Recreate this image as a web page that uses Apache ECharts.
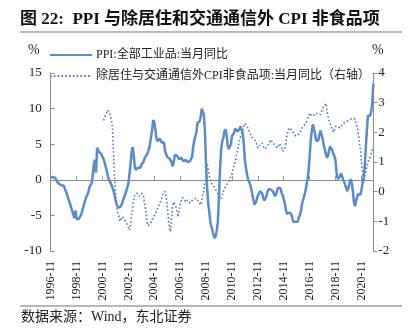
<!DOCTYPE html>
<html><head><meta charset="utf-8">
<script src="https://cdn.jsdelivr.net/npm/echarts@6/dist/echarts.min.js"></script>
<style>html,body{margin:0;padding:0;background:#fff}#c{width:414px;height:331px}</style>
</head><body><div id="c"></div>
<script>
// Monthly categories 1996-11 .. 2021-10
const startYear = 1996, startMonth = 11, monthCount = 300;
const categories = [];
for (let i = 0; i < monthCount; i++) {
  const t = startYear * 12 + (startMonth - 1) + i;
  const y = Math.floor(t / 12), m = t % 12 + 1;
  categories.push(y + '-' + (m < 10 ? '0' + m : m));
}
const seriesNames = ['PPI:全部工业品:当月同比', '除居住与交通通信外CPI非食品项:当月同比（右轴）'];
const leftTicks = [-10, -5, 0, 5, 10, 15];
const rightTicks = [-2, -1, 0, 1, 2, 3, 4];

// PPI yoy (%), 1996-11 .. 2021-10
const ppi = [
  0.3, 0.3,
  0.4, 0.2, 0.3, 0.0, -0.3, -0.5, -0.6, -0.7, -0.8, -0.7, -0.8, -1.2,
  -1.6, -2.0, -2.5, -3.0, -3.4, -3.9, -4.4, -4.9, -5.4, -4.3, -5.5, -5.7,
  -5.5, -5.3, -5.0, -4.5, -3.9, -3.4, -2.9, -2.4, -2.1, -1.7, -1.0, -0.8,
  -0.5, 0.6, 2.2, 2.8, 1.0, 4.5, 4.3, 3.9, 3.8, 3.6, 3.4, 2.9,
  2.4, 1.8, 1.2, 0.5, 0.0, -0.3, -0.6, -0.8, -1.4, -2.0, -2.8, -3.4,
  -3.8, -4.0, -3.9, -3.8, -3.4, -2.9, -2.5, -2.1, -1.6, -1.1, -0.5, 0.8,
  2.2, 3.9, 4.6, 3.4, 1.8, 1.4, 1.5, 1.7, 1.6, 1.7, 2.1, 2.2,
  2.5, 3.0, 3.3, 3.5, 3.8, 4.3, 5.0, 6.0, 7.0, 8.4, 8.1, 7.1,
  5.8, 5.4, 5.6, 5.8, 5.9, 5.2, 5.2, 5.3, 4.0, 4.0, 3.2, 3.2,
  3.0, 3.0, 2.5, 1.9, 2.4, 3.5, 3.6, 3.4, 3.5, 2.9, 2.8, 3.1,
  3.3, 2.6, 2.7, 2.8, 2.8, 2.5, 2.4, 2.6, 2.7, 3.2, 4.6, 5.4,
  6.1, 6.6, 8.0, 8.1, 8.2, 8.8, 10.0, 10.1, 9.1, 6.6, 2.0, -1.1,
  -3.3, -4.5, -6.0, -6.6, -7.2, -7.8, -8.2, -7.9, -7.0, -5.8, -2.1, 1.7,
  4.3, 5.4, 5.9, 6.8, 7.1, 6.4, 4.8, 4.3, 4.3, 5.0, 6.1, 5.9,
  6.6, 7.2, 7.3, 6.8, 6.8, 7.1, 7.5, 7.3, 6.5, 5.0, 2.7, 1.7,
  0.7, 0.0, -0.3, -0.7, -1.4, -2.1, -2.9, -3.5, -3.6, -2.8, -2.2, -1.9,
  -1.6, -1.6, -1.9, -2.6, -2.9, -2.7, -2.3, -1.6, -1.3, -1.5, -1.4, -1.4,
  -1.6, -2.0, -2.3, -2.0, -1.4, -1.1, -0.9, -1.2, -1.8, -2.2, -2.7, -3.3,
  -4.3, -4.8, -4.6, -4.6, -4.6, -4.8, -5.4, -5.9, -5.9, -5.9, -5.9, -5.9,
  -5.3, -4.9, -4.3, -3.4, -2.8, -2.6, -1.7, -0.8, 0.1, 1.2, 3.3, 5.5,
  6.9, 7.8, 7.6, 6.4, 5.5, 5.5, 5.5, 6.3, 6.9, 6.9, 5.8, 4.9,
  4.3, 3.7, 3.1, 3.4, 4.1, 4.7, 4.6, 4.1, 3.6, 3.3, 2.7, 0.9,
  0.1, 0.1, 0.4, 0.9, 0.6, 0.0, -0.3, -0.8, -1.2, -1.6, -1.4, -0.5,
  0.1, -0.4, -1.5, -3.1, -3.7, -3.0, -2.4, -2.0, -2.1, -2.1, -1.5, -0.4,
  0.3, 1.7, 4.4, 6.8, 9.0, 8.8, 9.0, 9.5, 10.7, 13.5
];

// CPI non-food ex housing & transport/communication yoy (%), 2000-12 .. 2021-10 (right axis)
const cpiStart = '2000-12';
const cpiNonFood = [
  2.4, 2.45, 2.6, 2.65, 2.75, 2.7, 2.6, 2.55, 2.3, 1.5, 0.6, 0.0,
  -0.4, -0.7, -0.8, -1.0, -0.95, -0.85, -0.85, -0.9, -0.95, -1.05, -1.1, -1.2,
  -1.3, -1.1, -0.8, -0.5, -0.3, -0.1, -0.05, -0.05, -0.1, -0.15, -0.15, -0.05,
  0.0, -0.15, -0.4, -0.6, -0.9, -1.15, -1.2, -1.1, -1.05, -0.95, -0.85, -0.8,
  -0.75, -0.65, -0.6, -0.5, -0.4, -0.3, -0.2, -0.05, 0.0, 0.0, -0.2, -0.45,
  -0.9, -1.2, -1.35, -0.9, -0.45, -0.35, -0.35, -0.5, -0.65, -0.85, -0.6, -0.45,
  -0.3, -0.2, -0.18, -0.25, -0.35, -0.3, -0.28, -0.32, -0.38, -0.36, -0.3, -0.28,
  -0.25, -0.22, -0.22, -0.25, -0.35, -0.4, -0.45, -0.5, -0.1, 0.05, 0.3, 0.55,
  0.95, 0.75, 0.55, 0.35, 0.28, 0.24, 0.2, 0.12, 0.06, 0.0, -0.05, -0.12,
  -0.18, -0.25, -0.2, 0.0, 0.1, 0.16, 0.22, 0.28, 0.35, 0.42, 0.45, 0.6,
  0.75, 0.9, 1.0, 1.2, 1.35, 1.55, 1.75, 1.85, 1.95, 2.05, 2.2, 2.3,
  2.25, 2.2, 2.15, 2.05, 1.95, 1.85, 1.8, 1.78, 1.75, 1.7, 1.6, 1.47,
  1.5, 1.58, 1.62, 1.64, 1.55, 1.45, 1.4, 1.48, 1.55, 1.6, 1.68, 1.75,
  1.8, 1.65, 1.6, 1.55, 1.5, 1.47, 1.55, 1.62, 1.67, 1.5, 1.36, 1.34,
  1.45, 1.7, 1.9, 2.05, 2.15, 2.18, 2.1, 2.02, 2.0, 1.95, 1.88, 1.84,
  1.9, 1.96, 2.0, 2.08, 2.15, 2.18, 2.25, 2.3, 2.35, 2.45, 2.55, 2.65,
  2.6, 2.55, 2.52, 2.58, 2.62, 2.65, 2.62, 2.6, 2.58, 2.6, 2.7, 2.8,
  2.85, 2.9, 2.98, 2.7, 2.55, 2.4, 2.3, 2.2, 2.1, 2.0, 2.1, 2.2,
  2.25, 2.2, 2.18, 2.15, 2.2, 2.25, 2.3, 2.32, 2.35, 2.35, 2.38, 2.4,
  2.42, 2.44, 2.46, 2.48, 2.46, 2.44, 2.42, 2.2, 1.97, 1.7, 1.45, 1.0,
  0.65, 0.3, 0.5, 0.65, 0.85, 0.98, 1.1, 1.17, 1.3, 1.4, 1.47
];
const cpiData = categories.map(() => null);
const off = categories.indexOf(cpiStart);
cpiNonFood.forEach((v, i) => { cpiData[off + i] = v; });

const serif = "'Liberation Serif','Noto Sans CJK SC',serif";
const axisColor = '#8c8c8c';
const ppiColor = '#5b8bc9', cpiColor = '#4a7cc2';
const chart = echarts.init(document.getElementById('c'), null, {renderer: 'canvas'});
chart.setOption({
  animation: false,
  backgroundColor: '#fff',
  grid: {left: 50.7, right: 40.7, top: 73, bottom: 80, containLabel: false},
  legend: {
    orient: 'vertical', left: 44, top: 44, itemGap: 9, itemWidth: 42, itemHeight: 12,
    itemStyle: {opacity: 0},
    textStyle: {fontFamily: serif, fontSize: 12, color: '#222', padding: [0, 0, 0, -1]},
    data: seriesNames
  },
  graphic: [
    {type: 'text', left: 20, top: 11, style: {text: '图 22:  PPI 与除居住和交通通信外 CPI 非食品项', font: "bold 17px 'Liberation Serif','Noto Sans CJK SC',serif", fill: '#111'}},
    {type: 'line', shape: {x1: 20, y1: 32, x2: 402, y2: 32}, style: {stroke: '#a0a0a0', lineWidth: 1.5}},
    {type: 'text', left: 28, top: 43, style: {text: '%', font: "14px 'Liberation Serif',serif", fill: '#222'}},
    {type: 'text', left: 372, top: 43, style: {text: '%', font: "14px 'Liberation Serif',serif", fill: '#222'}},
    {type: 'line', shape: {x1: 20, y1: 306, x2: 402, y2: 306}, style: {stroke: '#a0a0a0', lineWidth: 1.5}},
    {type: 'text', left: 21, top: 310, style: {text: '数据来源：Wind，东北证券', font: "14px 'Liberation Serif','Noto Sans CJK SC',serif", fill: '#222'}}
  ],
  xAxis: [
    {type: 'category', data: categories, boundaryGap: false, position: 'bottom',
     axisLine: {show: false, onZero: false}, axisTick: {show: false}, splitLine: {show: false},
     axisLabel: {interval: 23, rotate: 90, margin: 10, fontFamily: serif, fontSize: 12, color: '#222'}},
    {type: 'category', data: categories, boundaryGap: false, position: 'top',
     axisLine: {show: true, onZero: true, onZeroAxisIndex: 0, lineStyle: {color: axisColor, width: 1}},
     axisTick: {show: true, interval: 23, length: 4, inside: false, lineStyle: {color: axisColor}},
     axisLabel: {show: false}, splitLine: {show: false}}
  ],
  yAxis: [
    {type: 'value', min: leftTicks[0], max: leftTicks[leftTicks.length - 1], interval: 5, position: 'left',
     axisLine: {show: true, lineStyle: {color: axisColor}},
     axisTick: {show: true, inside: true, length: 4, lineStyle: {color: axisColor}},
     splitLine: {show: false},
     axisLabel: {margin: 9, fontFamily: serif, fontSize: 13, color: '#222'}},
    {type: 'value', min: rightTicks[0], max: rightTicks[rightTicks.length - 1], interval: 1, position: 'right',
     axisLine: {show: true, lineStyle: {color: axisColor}},
     axisTick: {show: true, inside: false, length: 4, lineStyle: {color: axisColor}},
     splitLine: {show: false},
     axisLabel: {margin: 5, fontFamily: serif, fontSize: 13, color: '#222'}}
  ],
  series: [
    {name: seriesNames[0], type: 'line', data: ppi, xAxisIndex: 0, yAxisIndex: 0, symbol: 'none',
     lineStyle: {color: ppiColor, width: 2.5}, itemStyle: {color: ppiColor}, z: 3},
    {name: seriesNames[1], type: 'line', data: cpiData, xAxisIndex: 0, yAxisIndex: 1, symbol: 'none',
     connectNulls: false,
     lineStyle: {color: cpiColor, width: 1.6, type: [1.6, 2.2]}, itemStyle: {color: cpiColor}, z: 2}
  ]
});
</script></body></html>
